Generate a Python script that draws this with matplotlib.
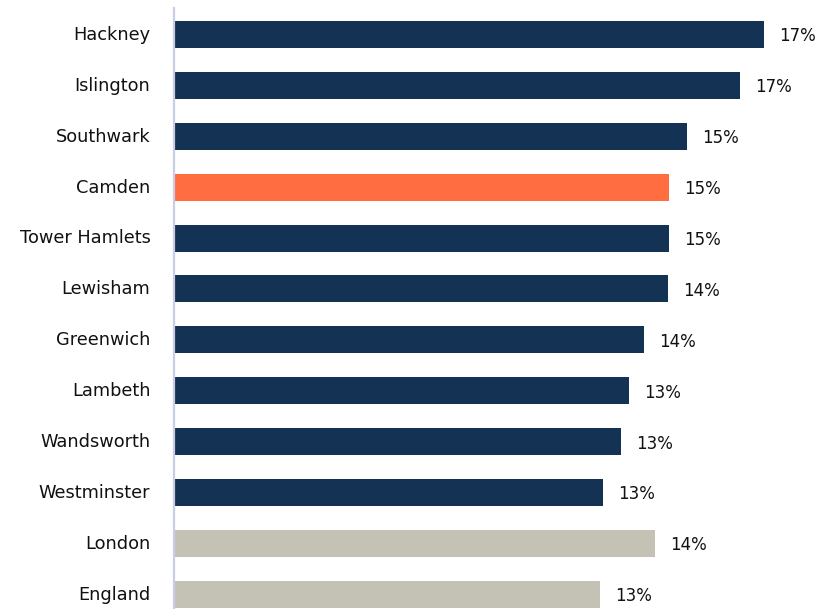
import matplotlib
matplotlib.use("Agg")
import matplotlib.pyplot as plt

plt.rcParams["font.family"] = ["DejaVu Sans"]

areas = ["Hackney", "Islington", "Southwark", "Camden", "Tower Hamlets", "Lewisham",
         "Greenwich", "Lambeth", "Wandsworth", "Westminster", "London", "England"]
values = [17.3, 16.6, 15.05, 14.52, 14.52, 14.48, 13.78, 13.34, 13.11, 12.59, 14.11, 12.5]
labels = ["17%", "17%", "15%", "15%", "15%", "14%", "14%", "13%", "13%", "13%", "14%", "13%"]
kinds = ["borough", "borough", "borough", "camden", "borough", "borough",
         "borough", "borough", "borough", "borough", "benchmark", "benchmark"]

palette = {"borough": "#143254", "camden": "#FF6D40", "benchmark": "#C4C1B5"}
colors = [palette[k] for k in kinds]

fig = plt.figure(figsize=(8.18, 6.09), dpi=100)
W, H = 818, 609
ax = fig.add_axes([174 / W, 0, (808 - 174) / W, (H - 8) / H])

y = list(range(len(areas)))
ax.barh(y, values, height=0.53, color=colors, edgecolor="none")
for yi, v, lab in zip(y, values, labels):
    ax.annotate(lab, (v, yi + 0.04), xytext=(15, 0), textcoords="offset pixels",
                va="center", ha="left", fontsize=12, color="#111111")

ax.set_xlim(0, 634 / 34.1)
ax.set_ylim(11.29, -0.52)
ax.set_yticks([yi - 0.03 for yi in y])
ax.set_yticklabels(areas, fontsize=12.8, color="#111111")
ax.tick_params(axis="y", length=0, pad=17)
ax.set_xticks([])
for s in ["top", "right", "bottom"]:
    ax.spines[s].set_visible(False)
ax.spines["left"].set_color("#C9CDE6")
ax.spines["left"].set_linewidth(1.6)

fig.savefig("out.png", dpi=100)
